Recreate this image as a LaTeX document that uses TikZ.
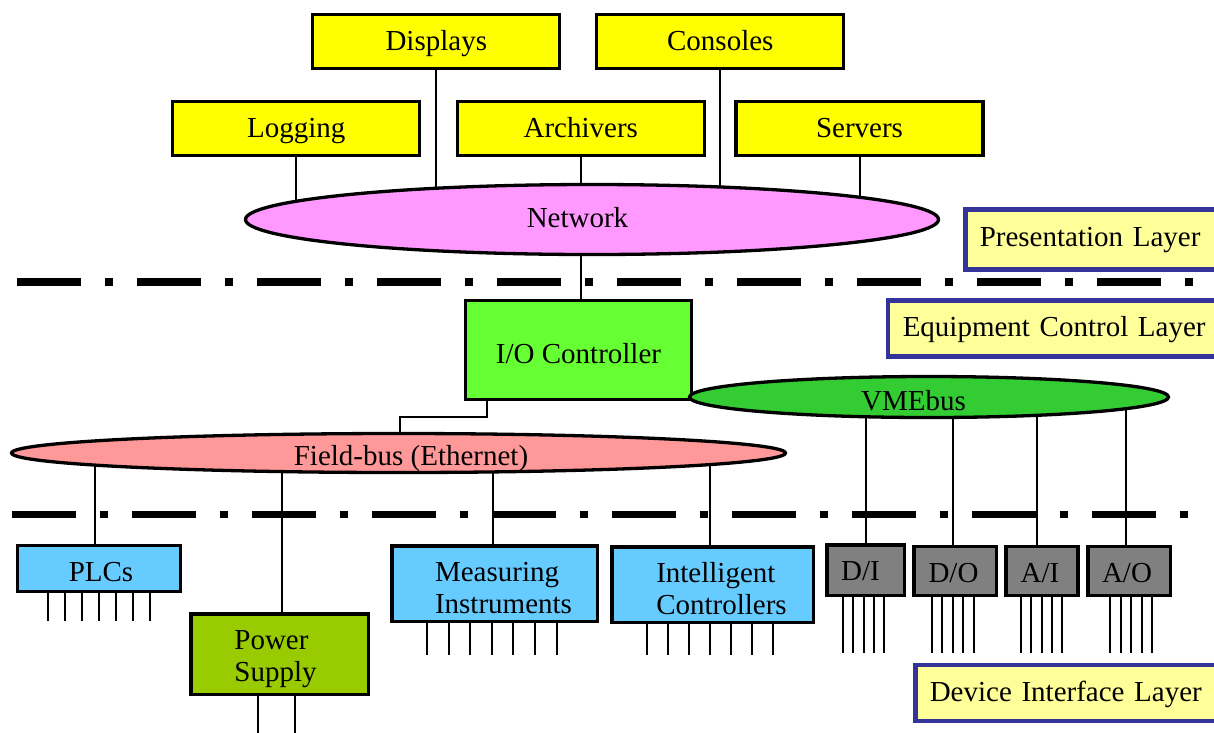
\documentclass[tikz,border=0pt]{standalone}
\usepackage{fontspec}
\setmainfont{Liberation Serif}
\usetikzlibrary{shapes.geometric,backgrounds}
\definecolor{topyellow}{HTML}{FFFF00}
\definecolor{netpink}{HTML}{FF99FF}
\definecolor{iogreen}{HTML}{66FF33}
\definecolor{vmegreen}{HTML}{33CC33}
\definecolor{fbred}{HTML}{FF9999}
\definecolor{devblue}{HTML}{66CCFF}
\definecolor{psgreen}{HTML}{99CC00}
\definecolor{iogray}{HTML}{808080}
\definecolor{layerfill}{HTML}{FFFF99}
\definecolor{layerline}{HTML}{333399}
\begin{document}
\begin{tikzpicture}[x=1pt,y=-1pt,
  every node/.style={font=\fontsize{29}{32}\selectfont, inner sep=0pt},
  oneline/.style={text height=21pt, text depth=4.6pt},
  ybox/.style={rectangle, draw=black, line width=3.3pt, fill=topyellow, minimum width=247pt, minimum height=54pt, oneline},
  bus/.style={ellipse, draw=black, line width=3.3pt},
  devbox/.style={rectangle, draw=black, line width=3.5pt, fill=devblue},
  chan/.style={rectangle, draw=black, line width=3.5pt, fill=iogray, minimum height=49pt},
  layerbox/.style={rectangle, draw=layerline, line width=4.5pt, fill=layerfill, anchor=west, align=left, inner xsep=14.5pt, text width=300pt, oneline},
  conn/.style={draw=black, line width=2pt},
  pinline/.style={draw=black, line width=2pt},
  divider/.style={draw=black, line width=7.8pt, line cap=butt, dash pattern=on 64pt off 24pt on 8pt off 24pt}
]
\useasboundingbox (0,0) rectangle (1214,732);

% presentation layer
\node[ybox] (displays) at (436.3,41.5) {\raisebox{-0.3pt}{Displays}};
\node[ybox] (consoles) at (720.3,41.5) {\raisebox{-0.3pt}{Consoles}};
\node[ybox] (logging) at (296.3,128.8) {Logging};
\node[ybox] (archivers) at (580.8,128.8) {Archivers};
\node[ybox] (servers) at (859.5,128.8) {Servers};
\node[bus, fill=netpink, minimum width=693pt, minimum height=70pt,
      label={[oneline,xshift=-14.5pt]center:Network}] (network) at (592,219.5) {};

% dividers
\draw[divider] (17,282) -- (1196,282);
\draw[divider] (12,514.5) -- (1193,514.5);

% equipment control layer
\node[rectangle, draw=black, line width=3.3pt, fill=iogreen, minimum width=226pt, minimum height=98.5pt,
      label={[oneline,yshift=-5.1pt]center:I/O Controller}] (io) at (578.5,350) {};
\node[bus, fill=vmegreen, minimum width=479pt, minimum height=41pt,
      label={[oneline,xshift=-15.5pt,yshift=-4.8pt]center:VMEbus}] (vme) at (929,397) {};
\node[bus, fill=fbred, minimum width=774pt, minimum height=39pt,
      label={[oneline,xshift=12.5pt,yshift=-3.8pt]center:Field-bus (Ethernet)}] (fieldbus) at (398.5,453) {};

% device layer
\node[devbox, minimum width=163pt, minimum height=46pt, label={[oneline,xshift=2pt,yshift=-5pt]center:PLCs}] (plc) at (99,568.5) {};
\node[devbox, minimum width=205.5pt, minimum height=75.5pt, label={[xshift=9pt,yshift=-5pt,align=left]center:Measuring\\Instruments}] (meas) at (494.5,583.5) {};
\node[devbox, minimum width=201.5pt, minimum height=75.5pt, label={[xshift=9pt,yshift=-4pt,align=left]center:Intelligent\\Controllers}] (intel) at (712.5,584.5) {};
\node[rectangle, draw=black, line width=3.5pt, fill=psgreen, minimum width=177.5pt, minimum height=80.5pt, label={[xshift=-4pt,yshift=-5.5pt,align=left]center:Power\\Supply}] (power) at (279.5,654) {};
\node[chan, minimum width=77.5pt, minimum height=50.5pt, label={[oneline,xshift=-5pt,yshift=-2.5pt]center:D/I}] (di) at (865.5,570) {};
\node[chan, minimum width=82.5pt, label={[oneline,xshift=-1.5pt,yshift=-3.5pt]center:D/O}] (do) at (955,571) {};
\node[chan, minimum width=72pt, label={[oneline,xshift=-2pt,yshift=-3.5pt]center:A/I}] (ai) at (1042,571) {};
\node[chan, minimum width=82.5pt, label={[oneline,xshift=-2pt,yshift=-3.5pt]center:A/O}] (ao) at (1129,571) {};

% layer labels
\node[layerbox, minimum height=60pt] (preslayer) at (963,239.5) {\raisebox{1pt}{Presentation Layer}};
\node[layerbox, minimum height=56pt, inner xsep=15pt, text width=340pt] (eqlayer) at (885.5,328.5) {Equipment Control Layer};
\node[layerbox, minimum height=56pt, text width=300pt] (devlayer) at (913,693) {\raisebox{-0.5pt}{Device Interface Layer}};

% pins
\foreach \i in {0,...,6} \draw[pinline] ([xshift={32+17*\i}]plc.south west) -- ++(0,28);
\foreach \i in {0,...,6} \draw[pinline] ([xshift={37+21.6*\i}]meas.south west) -- ++(0,32);
\foreach \i in {0,...,6} \draw[pinline] ([xshift={37+21*\i}]intel.south west) -- ++(0,31);
\foreach \i in {0,...,4} \draw[pinline] ([xshift={18+10.3*\i}]di.south west) -- ++(0,56);
\foreach \i in {0,...,4} \draw[pinline] ([xshift={20+10.4*\i}]do.south west) -- ++(0,56);
\foreach \i in {0,...,4} \draw[pinline] ([xshift={16.5+10.4*\i}]ai.south west) -- ++(0,56);
\foreach \i in {0,...,4} \draw[pinline] ([xshift={24+10.5*\i}]ao.south west) -- ++(0,56);
\foreach \dx in {69,106} \draw[pinline] ([xshift=\dx]power.south west) -- ++(0,40);

% connectors
\begin{pgfonlayer}{background}
\draw[conn] (logging.south) -- (logging.south |- network.center);
\draw[conn] (displays.south) -- (displays.south |- network.center);
\draw[conn] (archivers.south) -- (archivers.south |- network.center);
\draw[conn] (consoles.south) -- (consoles.south |- network.center);
\draw[conn] (servers.south) -- (servers.south |- network.center);
\draw[conn] ([xshift=2pt]io.north) -- ([xshift=2pt]io.north |- network.center);
\draw[conn] ([xshift=-91.5pt]io.south) -- ++(0,16) -| ([xshift=1.5pt]fieldbus.center);
\draw[conn] ([xshift=-4pt]plc.north) -- ([xshift=-4pt]plc.north |- fieldbus.center);
\draw[conn] ([xshift=2pt]power.north) -- ([xshift=2pt]power.north |- fieldbus.center);
\draw[conn] ([xshift=-2pt]meas.north) -- ([xshift=-2pt]meas.north |- fieldbus.center);
\draw[conn] ([xshift=-3pt]intel.north) -- ([xshift=-3pt]intel.north |- fieldbus.center);
\draw[conn] (di.north) -- (di.north |- vme.center);
\draw[conn] ([xshift=-2pt]do.north) -- ([xshift=-2pt]do.north |- vme.center);
\draw[conn] ([xshift=-5pt]ai.north) -- ([xshift=-5pt]ai.north |- vme.center);
\draw[conn] ([xshift=-3.5pt]ao.north) -- ([xshift=-3.5pt]ao.north |- vme.center);
\end{pgfonlayer}
\end{tikzpicture}
\end{document}
